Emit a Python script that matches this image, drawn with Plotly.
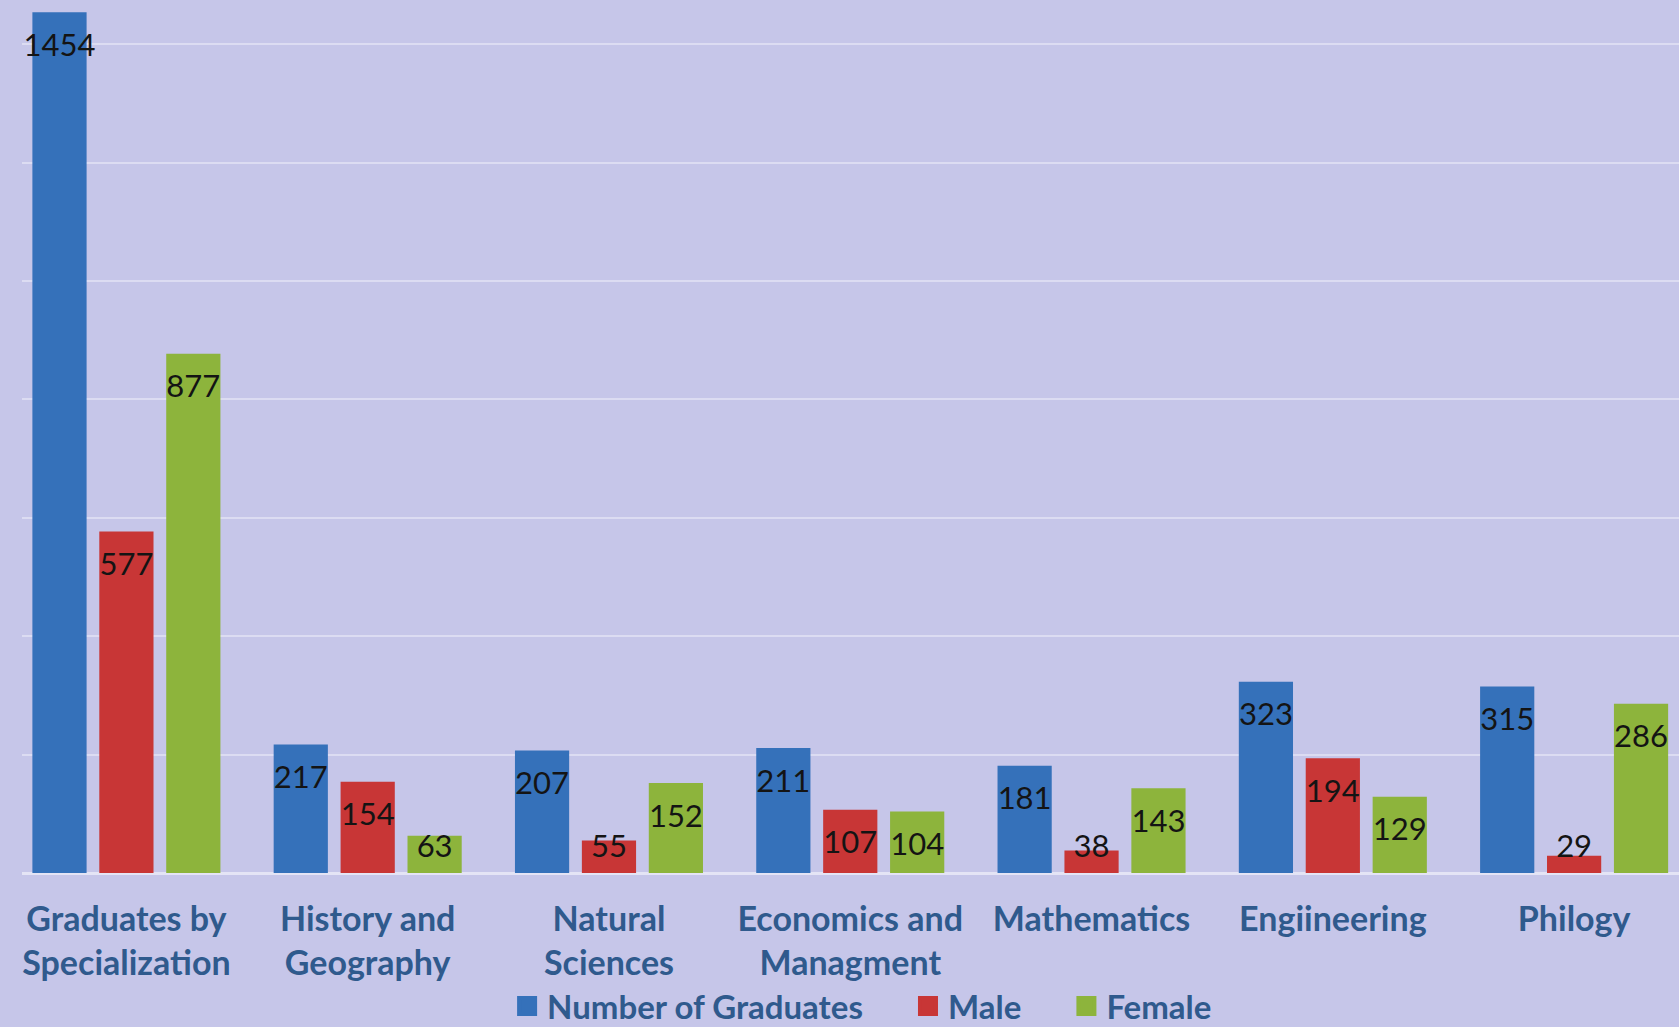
import plotly.graph_objects as go

categories = ["Graduates by<br>Specialization", "History and<br>Geography", "Natural<br>Sciences",
              "Economics and<br>Managment", "Mathematics", "Engiineering", "Philogy"]
total = [1454, 217, 207, 211, 181, 323, 315]
male = [577, 154, 55, 107, 38, 194, 29]
female = [877, 63, 152, 104, 143, 129, 286]

series = [
    ("Number of Graduates", total, "#3571BA"),
    ("Male", male, "#C83636"),
    ("Female", female, "#8DB43C"),
]

LABEL_FLOOR = 100  # labels of short bars sit no lower than this value
BG = "#C6C6E9"
TXT = "#2F5A8D"
FONT = "Lato"
NBSP = "\u00a0"

fig = go.Figure()
for i, (name, vals, col) in enumerate(series):
    fig.add_trace(go.Bar(
        x=categories, y=vals, name=name, marker=dict(color=col, line=dict(width=0)),
        offsetgroup=str(i), hoverinfo="skip", showlegend=False))
for i, (name, vals, col) in enumerate(series):
    fig.add_trace(go.Scatter(
        x=categories, y=[max(v, LABEL_FLOOR) for v in vals], text=[str(v) for v in vals],
        mode="markers+text", textposition="bottom center", offsetgroup=str(i),
        marker=dict(size=31, color="rgba(0,0,0,0)"),
        textfont=dict(family=FONT, size=31, color="#141414"),
        showlegend=False, cliponaxis=False, hoverinfo="skip"))
# legend entries (square swatches)
for i, (name, vals, col) in enumerate(series):
    label = name + (NBSP * 5 if i < len(series) - 1 else "")
    fig.add_trace(go.Scatter(
        x=[None], y=[None], name=label, mode="markers",
        marker=dict(symbol="square", size=16, color=col, line=dict(width=4, color=col)),
        showlegend=True))

fig.update_layout(
    width=1679, height=1027,
    margin=dict(l=22, r=0, t=0, b=154, autoexpand=False),
    paper_bgcolor=BG, plot_bgcolor=BG,
    barmode="group", bargap=0.168, bargroupgap=0.19,
    scattermode="group", scattergap=0.168,
    font=dict(family=FONT, color=TXT),
    showlegend=True,
    legend=dict(orientation="h", x=0.507, xanchor="center", y=-0.1523, yanchor="middle",
                font=dict(family=FONT, size=33, color=TXT, weight="bold"),
                itemsizing="trace", bgcolor="rgba(0,0,0,0)", tracegroupgap=0,
                itemclick=False, itemdoubleclick=False),
)
fig.update_xaxes(range=[-0.4327, 6.4347], showgrid=False, showline=False, ticks="",
                 tickfont=dict(family=FONT, size=34, color=TXT, weight="bold"),
                 ticklabelstandoff=23, automargin=False)
fig.update_yaxes(range=[0, 1474.7], dtick=200, showticklabels=False, showgrid=True,
                 gridcolor="#DCDCF2", gridwidth=2, zeroline=True, zerolinecolor="#E4E4F5",
                 zerolinewidth=3, showline=False, automargin=False)

fig.write_html("out.html", config={"displayModeBar": False},
               post_script="document.body.style.margin='0';document.body.style.overflow='hidden';")
